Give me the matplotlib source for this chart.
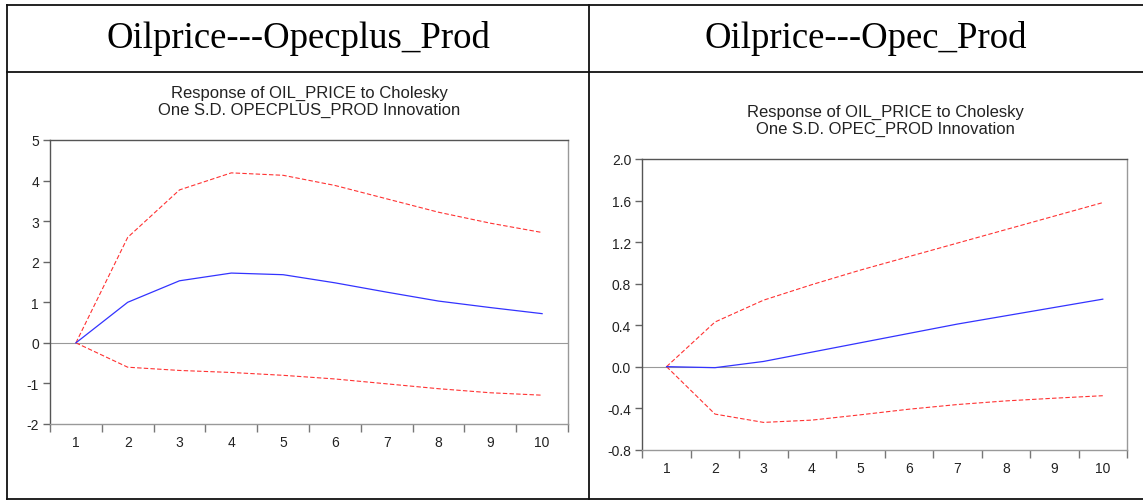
import matplotlib
matplotlib.use("Agg")
import matplotlib.pyplot as plt
from matplotlib.lines import Line2D
from matplotlib.ticker import FormatStrFormatter

plt.rcParams["font.family"] = ["Liberation Sans", "DejaVu Sans"]

# impulse responses
periods = list(range(1, 11))

plus_resp = [0.0, 1.0, 1.53, 1.72, 1.68, 1.48, 1.25, 1.03, 0.87, 0.72]
plus_upper = [0.0, 2.6, 3.77, 4.19, 4.13, 3.88, 3.55, 3.22, 2.95, 2.72]
plus_lower = [0.0, -0.6, -0.68, -0.73, -0.8, -0.89, -1.01, -1.13, -1.23, -1.29]

opec_resp = [0.0, -0.01, 0.05, 0.14, 0.23, 0.32, 0.41, 0.49, 0.57, 0.65]
opec_upper = [0.0, 0.43, 0.64, 0.79, 0.93, 1.06, 1.19, 1.32, 1.45, 1.58]
opec_lower = [0.0, -0.457, -0.537, -0.515, -0.464, -0.41, -0.365, -0.33, -0.304, -0.28]

headers = ["Oilprice---Opecplus_Prod", "Oilprice---Opec_Prod"]
titles = [
    "Response of OIL_PRICE to Cholesky\nOne S.D. OPECPLUS_PROD Innovation",
    "Response of OIL_PRICE to Cholesky\nOne S.D. OPEC_PROD Innovation",
]
plus_yticks = [-2, -1, 0, 1, 2, 3, 4, 5]
opec_yticks = [-0.8, -0.4, 0.0, 0.4, 0.8, 1.2, 1.6, 2.0]

W, H = 1143, 502
fig = plt.figure(figsize=(W / 100, H / 100), dpi=100)


def px(x, y):
    return x / W, 1 - y / H


# table grid
for (x0, y0, x1, y1) in [(7, 5.5, W, 5.5), (7, 73, W, 73), (7, 500, W, 500),
                         (7, 5.5, 7, 500), (589, 5.5, 589, 500)]:
    a, b = px(x0, y0)
    c, d = px(x1, y1)
    fig.add_artist(Line2D([a, c], [b, d], color="#111111", lw=1.3,
                          transform=fig.transFigure))

fig.text(*px(298, 39), headers[0], ha="center", va="center",
         family="Liberation Serif", fontsize=26.5, color="black")
fig.text(*px(866, 39), headers[1], ha="center", va="center",
         family="Liberation Serif", fontsize=26.5, color="black")


def irf_panel(rect, resp, upper, lower, yticks, fmt, title, title_xy):
    ax = fig.add_axes(rect)
    ax.axhline(0, color="#999999", lw=0.8, zorder=1)
    ax.plot(periods, upper, color="#ff3333", lw=0.8, ls=(0, (4, 2)), zorder=2)
    ax.plot(periods, lower, color="#ff3333", lw=0.8, ls=(0, (4, 2)), zorder=2)
    ax.plot(periods, resp, color="#3333ff", lw=0.9, zorder=3)
    ax.set_xlim(0.5, 10.5)
    ax.set_ylim(yticks[0], yticks[-1])
    ax.set_xticks(periods)
    ax.set_xticks([p + 0.5 for p in range(0, 11)], minor=True)
    ax.tick_params(axis="x", which="major", length=0, pad=8,
                   labelsize=10, labelcolor="#222222")
    ax.tick_params(axis="x", which="minor", length=6, width=1,
                   color="#777777", direction="out")
    ax.set_yticks(yticks)
    ax.yaxis.set_major_formatter(FormatStrFormatter(fmt))
    ax.tick_params(axis="y", length=5, width=1, color="#666666",
                   labelsize=10, labelcolor="#222222", pad=3)
    for side in ["left", "top"]:
        ax.spines[side].set_color("#555555")
    for side in ["right", "bottom"]:
        ax.spines[side].set_color("#999999")
    for s in ax.spines.values():
        s.set_linewidth(1.0)
    fig.text(*px(*title_xy), title, ha="center", va="center",
             fontsize=12, color="#222222", linespacing=1.1)
    return ax


irf_panel([50 / W, 1 - 425 / H, 518 / W, 284 / H],
          plus_resp, plus_upper, plus_lower, plus_yticks, "%d",
          titles[0], (309, 102))
irf_panel([642.3 / W, 1 - 450.7 / H, 484.7 / W, 290.7 / H],
          opec_resp, opec_upper, opec_lower, opec_yticks, "%.1f",
          titles[1], (885, 121))

fig.savefig("out.png", dpi=100)
